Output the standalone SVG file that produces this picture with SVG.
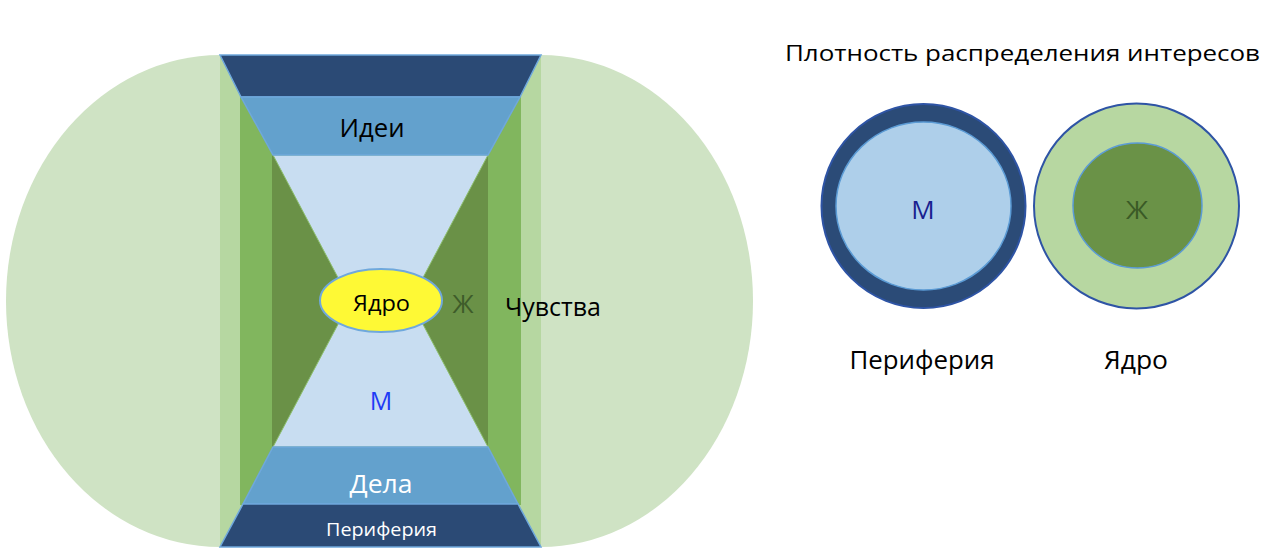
<svg xmlns="http://www.w3.org/2000/svg" width="1280" height="553" viewBox="0 0 1280 553">
<style>
text{font-family:"Open Sans","Liberation Sans","DejaVu Sans",sans-serif;text-anchor:middle}
.band{stroke:#6FA8DC;stroke-width:1.5}
.navy{fill:#2B4A75}
.mblue{fill:#63A1CD}
</style>
<rect width="1280" height="553" fill="#FFFFFF"/>
<g id="field">
<path d="M220,55 A214,246 0 0 0 220,547 Z" fill="#CFE3C4"/>
<path d="M541,55 A212,246 0 0 1 541,547 Z" fill="#CFE3C4"/>
<rect x="220" y="55" width="321" height="492" fill="#B6D7A1"/>
<rect x="240" y="97" width="281" height="408" fill="#81B65E"/>
<rect x="272" y="155" width="216" height="292" fill="#6A9147"/>
</g>
<g id="hourglass">
<polygon points="273,155 488,155 410.6,301 488,447 273,447 350.4,301" fill="#C8DDF1" stroke="#8DBE6E" stroke-width="1"/>
</g>
<g id="top-band">
<polygon class="band navy" points="220,55 541,55 520,97 241,97"/>
</g>
<g id="ideas">
<polygon class="band mblue" points="241,97 520,97 488,155 273,155"/>
<text x="372" y="137" font-size="25" fill="#000000" textLength="65" lengthAdjust="spacingAndGlyphs">Идеи</text>
</g>
<g id="deeds">
<polygon class="band mblue" points="273,447 488,447 518,504 243,504"/>
<text x="381" y="493" font-size="25" fill="#FFFFFF" textLength="63" lengthAdjust="spacingAndGlyphs">Дела</text>
</g>
<g id="periphery-band">
<polygon class="band navy" points="243,504 518,504 541,547 220,547"/>
<text x="381.5" y="536" font-size="19" fill="#FFFFFF" textLength="111" lengthAdjust="spacingAndGlyphs">Периферия</text>
</g>
<g id="core">
<ellipse cx="381" cy="300.5" rx="61" ry="31.5" fill="#FEF935" stroke="#6FA8DC" stroke-width="2"/>
<text x="381.5" y="311" font-size="22" fill="#000000" textLength="57" lengthAdjust="spacingAndGlyphs">Ядро</text>
</g>
<g id="labels">
<text x="381" y="410" font-size="25" fill="#1F3BF5">М</text>
<text x="463" y="313" font-size="25" fill="#3E5C2A">Ж</text>
<text x="553" y="316" font-size="25" fill="#000000" textLength="96" lengthAdjust="spacingAndGlyphs">Чувства</text>
</g>
<g id="title">
<text x="1022.5" y="61" font-size="22.5" fill="#000000" textLength="475" lengthAdjust="spacingAndGlyphs">Плотность распределения интересов</text>
</g>
<g id="periphery-circle">
<circle cx="923.5" cy="206" r="102" fill="#2B4B77" stroke="#2E54A5" stroke-width="2"/>
<ellipse cx="923.5" cy="206" rx="87.5" ry="84" fill="#AECFEA" stroke="#5B9BD5" stroke-width="1.5"/>
<text x="923" y="219" font-size="26" fill="#1A1F8F">М</text>
<text x="922" y="369" font-size="25" fill="#000000" textLength="145" lengthAdjust="spacingAndGlyphs">Периферия</text>
</g>
<g id="core-circle">
<circle cx="1136.5" cy="206" r="102.5" fill="#B7D7A1" stroke="#2E54A5" stroke-width="2"/>
<ellipse cx="1137.5" cy="205.5" rx="64.5" ry="62.5" fill="#6A9247" stroke="#5B9BD5" stroke-width="1.5"/>
<text x="1137" y="219" font-size="26" fill="#3A5A26">Ж</text>
<text x="1136" y="369" font-size="25" fill="#000000" textLength="64" lengthAdjust="spacingAndGlyphs">Ядро</text>
</g>
<g id="connectors"></g>
</svg>
